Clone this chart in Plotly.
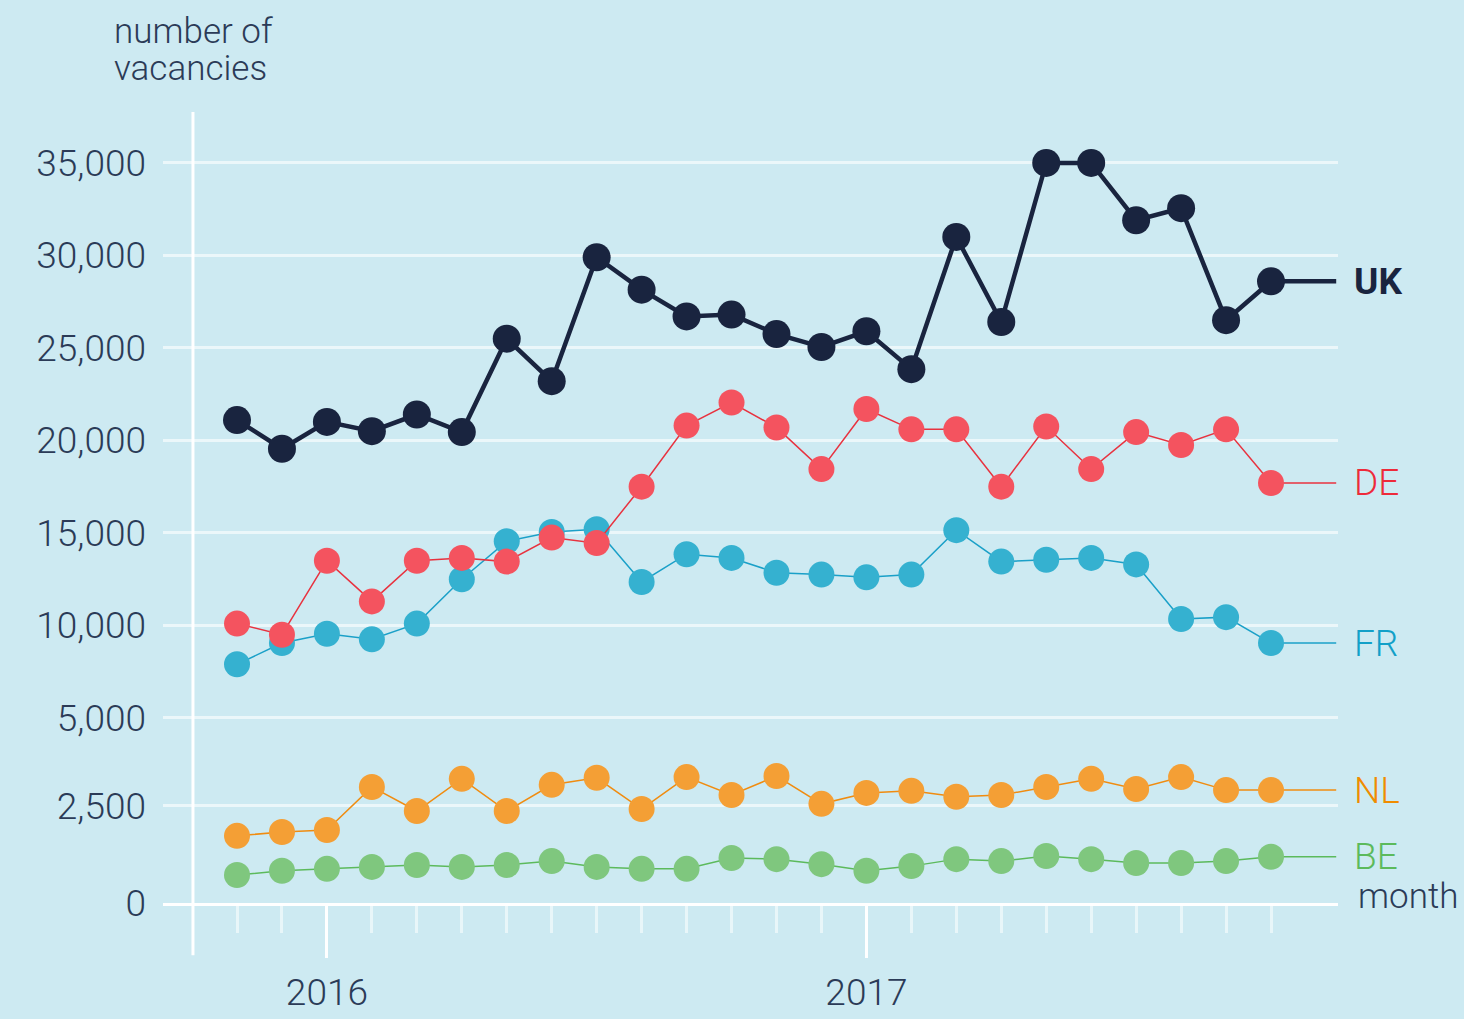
import numpy as np
import plotly.graph_objects as go

# ---- data ----
months = list(range(24))  # Nov 2015 .. Oct 2017 (index)
year_tick_pos = [2, 14]
year_tick_text = ["2016", "2017"]

uk = [21100, 19550, 21000, 20500, 21400, 20450, 25500, 23200, 29900, 28150, 26700, 26800,
      25750, 25050, 25900, 23850, 31000, 26400, 35050, 35250, 31900, 32550, 26500, 28600]
de = [10100, 9500, 13500, 11300, 13500, 13650, 13450, 14750, 14450, 17500, 20800, 22050,
      20700, 18450, 21700, 20600, 20600, 17500, 20750, 18450, 20450, 19750, 20600, 17700]
fr = [7900, 9050, 9550, 9250, 10100, 12500, 14550, 15050, 15200, 12350, 13850, 13650,
      12850, 12750, 12600, 12750, 15150, 13450, 13550, 13650, 13300, 10350, 10450, 9050]
nl = [1730, 1830, 1880, 3040, 2370, 3270, 2370, 3100, 3300, 2420, 3320, 2810,
      3350, 2560, 2870, 2930, 2760, 2810, 3040, 3270, 2980, 3320, 2950, 2950]
be = [720, 830, 880, 930, 980, 930, 980, 1080, 930, 880, 880, 1160,
      1130, 1000, 830, 950, 1130, 1080, 1210, 1130, 1030, 1030, 1080, 1190]

y_ticks = [0, 2500, 5000, 10000, 15000, 20000, 25000, 30000, 35000]

# piecewise-linear value scale (lower band expanded, as in the original)
KNOTS_V = [0, 2500, 5000, 35000]
KNOTS_U = [0, 1.049, 2, 8]


def scale(v):
    return np.interp(np.asarray(v, dtype=float), KNOTS_V, KNOTS_U)


BG = "#cdeaf2"
TXT = "#2b3b57"
FONT = "Roboto"

series = [
    ("UK", uk, "#19243f", "#19243f", "#19243f", 4.5, 28, True),
    ("DE", de, "#e8323f", "#f4535f", "#ee2a3a", 1.5, 26, False),
    ("FR", fr, "#1aa0c8", "#35b1d0", "#12a0c8", 1.5, 26, False),
    ("NL", nl, "#f08c10", "#f49f35", "#f08c00", 1.5, 26, False),
    ("BE", be, "#5cba5c", "#7fc77e", "#5cba5c", 1.5, 26, False),
]

fig = go.Figure()
X_END = 24.45
for name, vals, lc, mc, tc, lw, ms, bold in series:
    fig.add_trace(go.Scatter(x=[months[-1], X_END], y=scale([vals[-1], vals[-1]]),
                             mode="lines", line=dict(color=lc, width=lw),
                             hoverinfo="skip", showlegend=False))
for name, vals, lc, mc, tc, lw, ms, bold in series[::-1]:
    fig.add_trace(go.Scatter(x=months, y=scale(vals), mode="lines+markers", name=name,
                             line=dict(color=lc, width=lw),
                             marker=dict(color=mc, size=ms, line=dict(width=0)),
                             showlegend=False, cliponaxis=False))
    fig.add_annotation(xref="paper", x=1, xshift=14, xanchor="left",
                       yref="y", y=float(scale(vals[-1])), yanchor="middle",
                       text=f"<b>{name}</b>" if bold else name, showarrow=False,
                       font=dict(family=FONT, size=37, color=tc,
                                 weight=700 if bold else 300))

# y axis line (extends below the zero line)
fig.add_shape(type="line", xref="paper", yref="paper", x0=0.0255, x1=0.0255,
              y0=-0.066, y1=1.0, line=dict(color="white", width=3), layer="below")

fig.add_annotation(xref="paper", x=-0.0434, xanchor="left", yref="paper", y=1.0,
                   yshift=103, yanchor="top", text="number of", showarrow=False,
                   font=dict(family=FONT, size=35, color=TXT, weight=300))
fig.add_annotation(xref="paper", x=-0.0434, xanchor="left", yref="paper", y=1.0,
                   yshift=66, yanchor="top", text="vacancies", showarrow=False,
                   font=dict(family=FONT, size=35, color=TXT, weight=300))
fig.add_annotation(xref="paper", x=1, xshift=18, xanchor="left", yref="paper", y=0,
                   yshift=7, yanchor="middle", text="month", showarrow=False,
                   font=dict(family=FONT, size=35, color=TXT, weight=300))

fig.update_layout(
    width=1464, height=1019,
    paper_bgcolor=BG, plot_bgcolor=BG,
    margin=dict(l=163, r=126, t=112, b=116),
    font=dict(family=FONT, size=37, color=TXT, weight=300),
    xaxis=dict(range=[-1.646, 24.49], showgrid=False, zeroline=False, automargin=False,
               showline=True, linecolor="white", linewidth=3,
               tickmode="array", tickvals=year_tick_pos, ticktext=year_tick_text,
               ticks="outside", ticklen=52, tickwidth=3, tickcolor="white",
               ticklabelstandoff=3,
               minor=dict(tickmode="array", tickvals=months, ticks="outside",
                          ticklen=27, tickwidth=3,
                          tickcolor="rgba(255,255,255,0.55)", showgrid=False)),
    yaxis=dict(range=[0, 8.55], showgrid=True, gridcolor="rgba(255,255,255,0.6)",
               gridwidth=3, zeroline=False, showline=False, automargin=False,
               tickmode="array", tickvals=list(scale(y_ticks)),
               ticktext=[f"{v:,}" for v in y_ticks], ticks="",
               ticklabelstandoff=16),
)

post = (
    "document.body.style.margin='0';"
    "document.body.style.padding='0';"
    "document.body.style.background='" + BG + "';"
    "document.body.style.height='1019px';"
    "document.body.style.overflow='hidden';"
    "document.documentElement.style.height='1019px';"
    "document.documentElement.style.overflow='hidden';"
    "var gd=document.getElementById('{plot_id}');"
    "gd.parentElement.style.height='1019px';"
    "gd.parentElement.style.overflow='hidden';"
)

fig.write_html("out.html", config={"displayModeBar": False}, post_script=post)
